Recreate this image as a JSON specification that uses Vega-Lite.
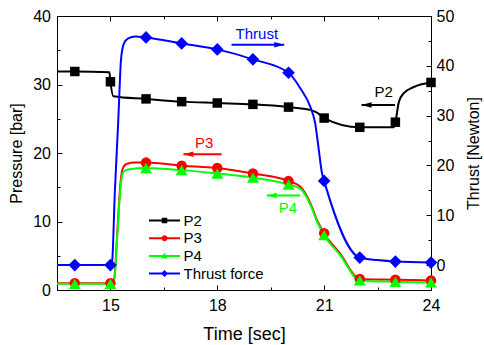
{
  "$schema": "https://vega.github.io/schema/vega-lite/v6.json",
  "width": 374,
  "height": 274,
  "autosize": {"type": "none"},
  "padding": {"left": 57, "top": 16, "right": 53, "bottom": 55},
  "config": {
    "font": "Liberation Sans, Arial, sans-serif",
    "view": {"stroke": "#000000", "strokeWidth": 1},
    "axis": {
      "grid": false,
      "domainColor": "#000000",
      "tickColor": "#000000",
      "labelColor": "#000000",
      "titleColor": "#000000",
      "labelFontSize": 16,
      "titleFontSize": 16,
      "titleFontWeight": "normal",
      "labelFlush": false,
      "labelOverlap": false,
      "tickWidth": 1,
      "domainWidth": 1
    },
    "legend": {
      "orient": "none",
      "legendX": 100,
      "legendY": 197,
      "padding": 0,
      "labelFontSize": 15,
      "labelColor": "#000000",
      "labelOffset": 11.5,
      "symbolSize": 100,
      "symbolStrokeWidth": 0,
      "symbolOpacity": 1,
      "rowPadding": 1.7
    }
  },
  "datasets": {
    "series": [
      {"series": "P2", "time": 13.5, "value": 31.9},
      {"series": "P2", "time": 14, "value": 31.9},
      {"series": "P2", "time": 14.97, "value": 31.8},
      {"series": "P2", "time": 15, "value": 30.4},
      {"series": "P2", "time": 15.08, "value": 28.3},
      {"series": "P2", "time": 16, "value": 27.9},
      {"series": "P2", "time": 17, "value": 27.5},
      {"series": "P2", "time": 18, "value": 27.3},
      {"series": "P2", "time": 19, "value": 27.1},
      {"series": "P2", "time": 20, "value": 26.7},
      {"series": "P2", "time": 20.6, "value": 26.3},
      {"series": "P2", "time": 20.8, "value": 25.9},
      {"series": "P2", "time": 21, "value": 25.1},
      {"series": "P2", "time": 22, "value": 23.75},
      {"series": "P2", "time": 22.95, "value": 23.75},
      {"series": "P2", "time": 23, "value": 24.5},
      {"series": "P2", "time": 23.1, "value": 27.5},
      {"series": "P2", "time": 23.23, "value": 28.7},
      {"series": "P2", "time": 23.5, "value": 29.6},
      {"series": "P2", "time": 24, "value": 30.3},
      {"series": "P3", "time": 13.5, "value": 1.0},
      {"series": "P3", "time": 14, "value": 1.0},
      {"series": "P3", "time": 15, "value": 1.0},
      {"series": "P3", "time": 15.1, "value": 1.5},
      {"series": "P3", "time": 15.2, "value": 9},
      {"series": "P3", "time": 15.28, "value": 15.5},
      {"series": "P3", "time": 15.35, "value": 17.8},
      {"series": "P3", "time": 15.45, "value": 18.4},
      {"series": "P3", "time": 15.7, "value": 18.6},
      {"series": "P3", "time": 16, "value": 18.6},
      {"series": "P3", "time": 17, "value": 18.15},
      {"series": "P3", "time": 18, "value": 17.8},
      {"series": "P3", "time": 19, "value": 17.0},
      {"series": "P3", "time": 20, "value": 15.9},
      {"series": "P3", "time": 20.33, "value": 15.1},
      {"series": "P3", "time": 20.61, "value": 12.7},
      {"series": "P3", "time": 20.8, "value": 10.2},
      {"series": "P3", "time": 21, "value": 8.3},
      {"series": "P3", "time": 21.45, "value": 5.3},
      {"series": "P3", "time": 22, "value": 1.6},
      {"series": "P3", "time": 23, "value": 1.5},
      {"series": "P3", "time": 24, "value": 1.4},
      {"series": "P4", "time": 13.5, "value": 0.9},
      {"series": "P4", "time": 14, "value": 0.9},
      {"series": "P4", "time": 15, "value": 0.9},
      {"series": "P4", "time": 15.1, "value": 1.2},
      {"series": "P4", "time": 15.2, "value": 8.5},
      {"series": "P4", "time": 15.28, "value": 14.8},
      {"series": "P4", "time": 15.36, "value": 17.2},
      {"series": "P4", "time": 15.5, "value": 17.6},
      {"series": "P4", "time": 16, "value": 17.8},
      {"series": "P4", "time": 17, "value": 17.5},
      {"series": "P4", "time": 18, "value": 17.0},
      {"series": "P4", "time": 19, "value": 16.4},
      {"series": "P4", "time": 20, "value": 15.4},
      {"series": "P4", "time": 20.33, "value": 14.8},
      {"series": "P4", "time": 20.61, "value": 12.5},
      {"series": "P4", "time": 20.8, "value": 10.0},
      {"series": "P4", "time": 21, "value": 8.0},
      {"series": "P4", "time": 21.45, "value": 5.1},
      {"series": "P4", "time": 22, "value": 1.4},
      {"series": "P4", "time": 23, "value": 1.2},
      {"series": "P4", "time": 24, "value": 1.1},
      {"series": "Thrust force", "time": 13.5, "value": 0},
      {"series": "Thrust force", "time": 14, "value": 0},
      {"series": "Thrust force", "time": 15, "value": 0},
      {"series": "Thrust force", "time": 15.05, "value": 1},
      {"series": "Thrust force", "time": 15.12, "value": 14},
      {"series": "Thrust force", "time": 15.22, "value": 29},
      {"series": "Thrust force", "time": 15.3, "value": 41.5},
      {"series": "Thrust force", "time": 15.38, "value": 44.5},
      {"series": "Thrust force", "time": 15.5, "value": 45.5},
      {"series": "Thrust force", "time": 15.7, "value": 45.9},
      {"series": "Thrust force", "time": 16, "value": 45.7},
      {"series": "Thrust force", "time": 17, "value": 44.5},
      {"series": "Thrust force", "time": 18, "value": 43.3},
      {"series": "Thrust force", "time": 19, "value": 41.3},
      {"series": "Thrust force", "time": 20, "value": 38.6},
      {"series": "Thrust force", "time": 20.33, "value": 35.5},
      {"series": "Thrust force", "time": 20.61, "value": 31.8},
      {"series": "Thrust force", "time": 20.75, "value": 28.4},
      {"series": "Thrust force", "time": 20.84, "value": 23.7},
      {"series": "Thrust force", "time": 20.94, "value": 18.4},
      {"series": "Thrust force", "time": 21, "value": 16.9},
      {"series": "Thrust force", "time": 22, "value": 1.5},
      {"series": "Thrust force", "time": 22.5, "value": 1.0},
      {"series": "Thrust force", "time": 23, "value": 0.7},
      {"series": "Thrust force", "time": 24, "value": 0.5}
    ],
    "arrows": [
      {"series": "Thrust force", "time": 18.40, "time2": 19.88, "value": 35.8},
      {"series": "P3", "time": 18.12, "time2": 17.05, "value": 19.8},
      {"series": "P4", "time": 20.32, "time2": 19.39, "value": 13.8},
      {"series": "P2", "time": 22.99, "time2": 22.05, "value": 27.0}
    ],
    "labels": [
      {"series": "Thrust force", "label": "Thrust", "time": 19.11, "value": 36.7},
      {"series": "P3", "label": "P3", "time": 17.63, "value": 20.7},
      {"series": "P4", "label": "P4", "time": 19.98, "value": 11.2},
      {"series": "P2", "label": "P2", "time": 22.67, "value": 28.2}
    ]
  },
  "layer": [
    {
      "encoding": {
        "x": {
          "field": "time", "type": "quantitative",
          "scale": {"domain": [13.5, 24], "nice": false, "zero": false},
          "axis": {
            "orient": "bottom",
            "values": [15, 16.5, 18, 19.5, 21, 22.5, 24],
            "labelExpr": "datum.value % 3 == 0 ? datum.label : ''",
            "tickSize": {"condition": {"test": "datum.value % 3 == 0", "value": -5}, "value": -3},
            "labelPadding": 12,
            "title": "Time [sec]",
            "titleFontSize": 18,
            "titlePadding": 10
          }
        },
        "y": {
          "field": "value", "type": "quantitative",
          "scale": {"domain": [0, 40], "nice": false, "zero": false},
          "axis": {
            "orient": "left",
            "values": [0, 5, 10, 15, 20, 25, 30, 35, 40],
            "labelExpr": "datum.value % 10 == 0 ? datum.label : ''",
            "tickSize": {"condition": {"test": "datum.value % 10 == 0", "value": -5}, "value": -3},
            "labelPadding": 11.5,
            "title": "Pressure [bar]",
            "titlePadding": 8
          }
        }
      },
      "layer": [
        {
          "data": {"name": "series"},
          "transform": [{"filter": "datum.series != 'Thrust force'"}],
          "mark": {"type": "line", "interpolate": "monotone", "strokeWidth": 2},
          "encoding": {
            "stroke": {"field": "series", "type": "nominal", "legend": null,
              "scale": {"domain": ["Thrust force", "P2", "P3", "P4"], "range": ["#0000ff", "#000000", "#ff0000", "#00ff00"]}}
          }
        },
        {
          "data": {"name": "series"},
          "transform": [{"filter": "datum.series == 'P2' && datum.time % 1 == 0"}],
          "mark": {"type": "point", "shape": "square", "filled": true, "size": 90, "color": "#000000", "opacity": 1}
        },
        {
          "data": {"name": "series"},
          "transform": [{"filter": "datum.series == 'P3' && datum.time % 1 == 0"}],
          "mark": {"type": "point", "shape": "circle", "filled": true, "size": 110, "color": "#ff0000", "opacity": 1}
        },
        {
          "data": {"name": "series"},
          "transform": [{"filter": "datum.series == 'P4' && datum.time % 1 == 0"}],
          "mark": {"type": "point", "shape": "triangle-up", "filled": true, "size": 140, "color": "#00ff00", "opacity": 1}
        },
        {
          "data": {"name": "series"},
          "transform": [{"filter": "datum.time == 14"}],
          "mark": {"type": "point", "filled": true, "size": 100, "strokeWidth": 0, "opacity": 0},
          "encoding": {
            "color": {"field": "series", "type": "nominal", "title": null,
              "scale": {"domain": ["P2", "P3", "P4", "Thrust force"], "range": ["#000000", "#ff0000", "#00ff00", "#0000ff"]}},
            "shape": {"field": "series", "type": "nominal", "title": null,
              "scale": {"domain": ["P2", "P3", "P4", "Thrust force"],
                "range": [
                  "M-3.1,-0.2H3.1V0.2H-3.1Z M-0.55,-0.55H0.55V0.55H-0.55Z",
                  "M-3.1,-0.2H3.1V0.2H-3.1Z M-0.6,0A0.6,0.6 0 1 1 0.6,0A0.6,0.6 0 1 1 -0.6,0Z",
                  "M-3.1,-0.2H3.1V0.2H-3.1Z M0,-0.65L0.65,0.5L-0.65,0.5Z",
                  "M-3.1,-0.2H3.1V0.2H-3.1Z M0,-0.7L0.7,0L0,0.7L-0.7,0Z"
                ]}}
          }
        },
        {
          "data": {"name": "arrows"},
          "mark": {"type": "rule", "strokeWidth": 2},
          "encoding": {
            "x2": {"field": "time2"},
            "stroke": {"field": "series", "type": "nominal", "legend": null,
              "scale": {"domain": ["Thrust force", "P2", "P3", "P4"], "range": ["#0000ff", "#000000", "#ff0000", "#00ff00"]}}
          }
        },
        {
          "data": {"name": "arrows"},
          "transform": [{"filter": "datum.series != 'Thrust force'"}],
          "mark": {"type": "point", "shape": "M0,0L2,-0.55L2,0.55Z", "filled": true, "size": 100, "strokeWidth": 0, "opacity": 1},
          "encoding": {
            "x": {"field": "time2", "type": "quantitative"},
            "fill": {"field": "series", "type": "nominal", "legend": null,
              "scale": {"domain": ["Thrust force", "P2", "P3", "P4"], "range": ["#0000ff", "#000000", "#ff0000", "#00ff00"]}}
          }
        },
        {
          "data": {"name": "arrows"},
          "transform": [{"filter": "datum.series == 'Thrust force'"}],
          "mark": {"type": "point", "shape": "M0,0L-2,-0.55L-2,0.55Z", "filled": true, "size": 100, "strokeWidth": 0, "opacity": 1},
          "encoding": {
            "x": {"field": "time2", "type": "quantitative"},
            "fill": {"field": "series", "type": "nominal", "legend": null,
              "scale": {"domain": ["Thrust force", "P2", "P3", "P4"], "range": ["#0000ff", "#000000", "#ff0000", "#00ff00"]}}
          }
        },
        {
          "data": {"name": "labels"},
          "mark": {"type": "text", "fontSize": 15, "baseline": "alphabetic", "align": "center"},
          "encoding": {
            "text": {"field": "label"},
            "fill": {"field": "series", "type": "nominal", "legend": null,
              "scale": {"domain": ["Thrust force", "P2", "P3", "P4"], "range": ["#0000ff", "#000000", "#ff0000", "#00ff00"]}}
          }
        }
      ]
    },
    {
      "encoding": {
        "x": {
          "field": "time", "type": "quantitative",
          "scale": {"domain": [13.5, 24], "nice": false, "zero": false},
          "axis": {
            "orient": "top",
            "values": [15, 16.5, 18, 19.5, 21, 22.5, 24],
            "labels": false,
            "tickSize": {"condition": {"test": "datum.value % 3 == 0", "value": -5}, "value": -3},
            "title": null
          }
        },
        "y": {
          "field": "value", "type": "quantitative",
          "scale": {"domain": [-5, 50], "nice": false, "zero": false},
          "axis": {
            "orient": "right",
            "values": [0, 5, 10, 15, 20, 25, 30, 35, 40, 45, 50],
            "labelExpr": "datum.value % 10 == 0 ? datum.label : ''",
            "tickSize": {"condition": {"test": "datum.value % 10 == 0", "value": -5}, "value": -3},
            "labelPadding": 10,
            "title": "Thrust [Newton]",
            "titleAngle": 270,
            "titleBaseline": "top",
            "titlePadding": 12
          }
        }
      },
      "layer": [
        {
          "data": {"name": "series"},
          "transform": [{"filter": "datum.series == 'Thrust force'"}],
          "mark": {"type": "line", "interpolate": "monotone", "strokeWidth": 2, "color": "#0000ff"}
        },
        {
          "data": {"name": "series"},
          "transform": [{"filter": "datum.series == 'Thrust force' && datum.time % 1 == 0"}],
          "mark": {"type": "point", "shape": "diamond", "filled": true, "size": 160, "color": "#0000ff", "opacity": 1}
        }
      ]
    }
  ],
  "resolve": {"scale": {"y": "independent"}, "axis": {"x": "independent"}}
}
